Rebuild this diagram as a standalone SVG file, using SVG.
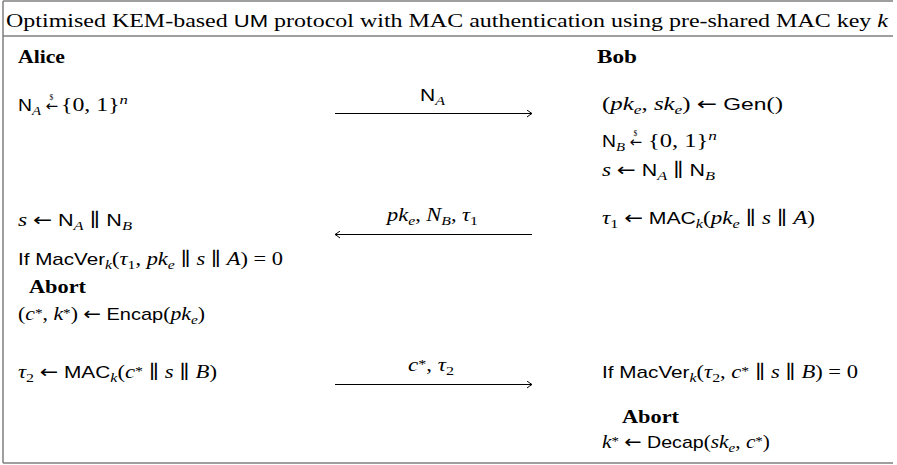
<svg xmlns="http://www.w3.org/2000/svg" width="897" height="465" viewBox="0 0 897 465">
<defs>
<style>
text{font-family:"Liberation Serif","DejaVu Serif",serif;font-size:18.5px;fill:#000}
.sf{font-family:"Liberation Sans","DejaVu Sans",sans-serif;font-size:17px}
.ar{font-family:"DejaVu Sans",sans-serif;font-size:18px;font-style:normal}
.it{font-style:italic}
.s{font-size:13px}
.b{font-weight:bold}
.tiny{font-size:7.5px}
.frame{stroke:#808080;stroke-width:1.5;fill:none}
.msg{stroke:#000;stroke-width:1;fill:none;marker-end:url(#ah)}
</style>
<marker id="ah" viewBox="-6 -4 7 8" markerWidth="7" markerHeight="8" refX="0" refY="0" orient="auto" markerUnits="userSpaceOnUse">
<path d="M-5,-3.5 Q-1.5,-0.8 0,0 Q-1.5,0.8 -5,3.5" fill="none" stroke="#000" stroke-width="1"/>
</marker>
</defs>
<rect width="897" height="465" fill="#fff"/>
<g id="frame">
<path class="frame" d="M3,1 H893 M3,36 H893 M3,463 H893 M3,1 V463"/>
</g>
<g id="title">
<text x="6" y="27" textLength="882" lengthAdjust="spacingAndGlyphs">Optimised KEM-based <tspan class="sf">UM</tspan> protocol with MAC authentication using pre-shared MAC key <tspan class="it">k</tspan></text>
</g>
<g id="alice">
<text x="18" y="63" class="b" textLength="47" lengthAdjust="spacingAndGlyphs">Alice</text>
<text x="18" y="111" textLength="23" lengthAdjust="spacingAndGlyphs"><tspan class="sf">N</tspan><tspan class="it s" dy="4">A</tspan></text>
<text x="45.5" y="111"><tspan class="ar" style="font-size:15px">←</tspan><tspan class="tiny" dx="-8.5" dy="-11">$</tspan></text>
<text x="61" y="111" textLength="67" lengthAdjust="spacingAndGlyphs">{0, 1}<tspan class="it s" dy="-7">n</tspan></text>
<text x="18" y="226" textLength="114" lengthAdjust="spacingAndGlyphs"><tspan class="it">s</tspan> <tspan class="ar">←</tspan> <tspan class="sf">N</tspan><tspan class="it s" dy="4">A</tspan><tspan dy="-4"> ∥ </tspan><tspan class="sf">N</tspan><tspan class="it s" dy="4">B</tspan></text>
<text x="18" y="265" textLength="265" lengthAdjust="spacingAndGlyphs"><tspan class="sf">If MacVer</tspan><tspan class="it s" dy="4">k</tspan><tspan dy="-4">(</tspan><tspan class="it">τ</tspan><tspan class="s" dy="4">1</tspan><tspan dy="-4">, </tspan><tspan class="it">pk</tspan><tspan class="it s" dy="4">e</tspan><tspan dy="-4"> ∥ </tspan><tspan class="it">s</tspan> ∥ <tspan class="it">A</tspan>) = 0</text>
<text x="29" y="293" class="b" textLength="57" lengthAdjust="spacingAndGlyphs">Abort</text>
<text x="18" y="320" textLength="187" lengthAdjust="spacingAndGlyphs">(<tspan class="it">c</tspan><tspan class="s" dy="-3">*</tspan><tspan dy="3">, </tspan><tspan class="it">k</tspan><tspan class="s" dy="-3">*</tspan><tspan dy="3">) </tspan><tspan class="ar">←</tspan> <tspan class="sf">Encap</tspan>(<tspan class="it">pk</tspan><tspan class="it s" dy="4">e</tspan><tspan dy="-4">)</tspan></text>
<text x="18" y="378" textLength="199" lengthAdjust="spacingAndGlyphs"><tspan class="it">τ</tspan><tspan class="s" dy="4">2</tspan><tspan dy="-4"> </tspan><tspan class="ar">←</tspan> <tspan class="sf">MAC</tspan><tspan class="it s" dy="4">k</tspan><tspan dy="-4">(</tspan><tspan class="it">c</tspan><tspan class="s" dy="-3">*</tspan><tspan dy="3"> ∥ </tspan><tspan class="it">s</tspan> ∥ <tspan class="it">B</tspan>)</text>
</g>
<g id="bob">
<text x="597" y="63" class="b" textLength="40" lengthAdjust="spacingAndGlyphs">Bob</text>
<text x="602" y="110" textLength="181" lengthAdjust="spacingAndGlyphs">(<tspan class="it">pk</tspan><tspan class="it s" dy="4">e</tspan><tspan dy="-4">, </tspan><tspan class="it">sk</tspan><tspan class="it s" dy="4">e</tspan><tspan dy="-4">) </tspan><tspan class="ar">←</tspan> <tspan class="sf">Gen</tspan>()</text>
<text x="602" y="147" textLength="23" lengthAdjust="spacingAndGlyphs"><tspan class="sf">N</tspan><tspan class="it s" dy="4">B</tspan></text>
<text x="629.5" y="147"><tspan class="ar" style="font-size:15px">←</tspan><tspan class="tiny" dx="-8.5" dy="-11">$</tspan></text>
<text x="648" y="147" textLength="69" lengthAdjust="spacingAndGlyphs">{0, 1}<tspan class="it s" dy="-7">n</tspan></text>
<text x="602" y="176" textLength="113" lengthAdjust="spacingAndGlyphs"><tspan class="it">s</tspan> <tspan class="ar">←</tspan> <tspan class="sf">N</tspan><tspan class="it s" dy="4">A</tspan><tspan dy="-4"> ∥ </tspan><tspan class="sf">N</tspan><tspan class="it s" dy="4">B</tspan></text>
<text x="602" y="224" textLength="213" lengthAdjust="spacingAndGlyphs"><tspan class="it">τ</tspan><tspan class="s" dy="4">1</tspan><tspan dy="-4"> </tspan><tspan class="ar">←</tspan> <tspan class="sf">MAC</tspan><tspan class="it s" dy="4">k</tspan><tspan dy="-4">(</tspan><tspan class="it">pk</tspan><tspan class="it s" dy="4">e</tspan><tspan dy="-4"> ∥ </tspan><tspan class="it">s</tspan> ∥ <tspan class="it">A</tspan>)</text>
<text x="602" y="378" textLength="256" lengthAdjust="spacingAndGlyphs"><tspan class="sf">If MacVer</tspan><tspan class="it s" dy="4">k</tspan><tspan dy="-4">(</tspan><tspan class="it">τ</tspan><tspan class="s" dy="4">2</tspan><tspan dy="-4">, </tspan><tspan class="it">c</tspan><tspan class="s" dy="-3">*</tspan><tspan dy="3"> ∥ </tspan><tspan class="it">s</tspan> ∥ <tspan class="it">B</tspan>) = 0</text>
<text x="622" y="423" class="b" textLength="57" lengthAdjust="spacingAndGlyphs">Abort</text>
<text x="602" y="448" textLength="168" lengthAdjust="spacingAndGlyphs"><tspan class="it">k</tspan><tspan class="s" dy="-3">*</tspan><tspan dy="3"> </tspan><tspan class="ar">←</tspan> <tspan class="sf">Decap</tspan>(<tspan class="it">sk</tspan><tspan class="it s" dy="4">e</tspan><tspan dy="-4">, </tspan><tspan class="it">c</tspan><tspan class="s" dy="-3">*</tspan><tspan dy="3">)</tspan></text>
</g>
<g id="connectors">
<path class="msg" d="M335,113.5 H532"/>
<path class="msg" d="M532,234.5 H335"/>
<path class="msg" d="M335,384.5 H532"/>
<text x="420" y="101" textLength="25" lengthAdjust="spacingAndGlyphs"><tspan class="sf">N</tspan><tspan class="it s" dy="4">A</tspan></text>
<text x="387" y="221" textLength="91" lengthAdjust="spacingAndGlyphs"><tspan class="it">pk</tspan><tspan class="it s" dy="4">e</tspan><tspan dy="-4">, </tspan><tspan class="it">N</tspan><tspan class="it s" dy="4">B</tspan><tspan dy="-4">, </tspan><tspan class="it">τ</tspan><tspan class="s" dy="4">1</tspan></text>
<text x="408" y="371" textLength="46" lengthAdjust="spacingAndGlyphs"><tspan class="it">c</tspan><tspan class="s" dy="-3">*</tspan><tspan dy="3">, </tspan><tspan class="it">τ</tspan><tspan class="s" dy="4">2</tspan></text>
</g>
</svg>
